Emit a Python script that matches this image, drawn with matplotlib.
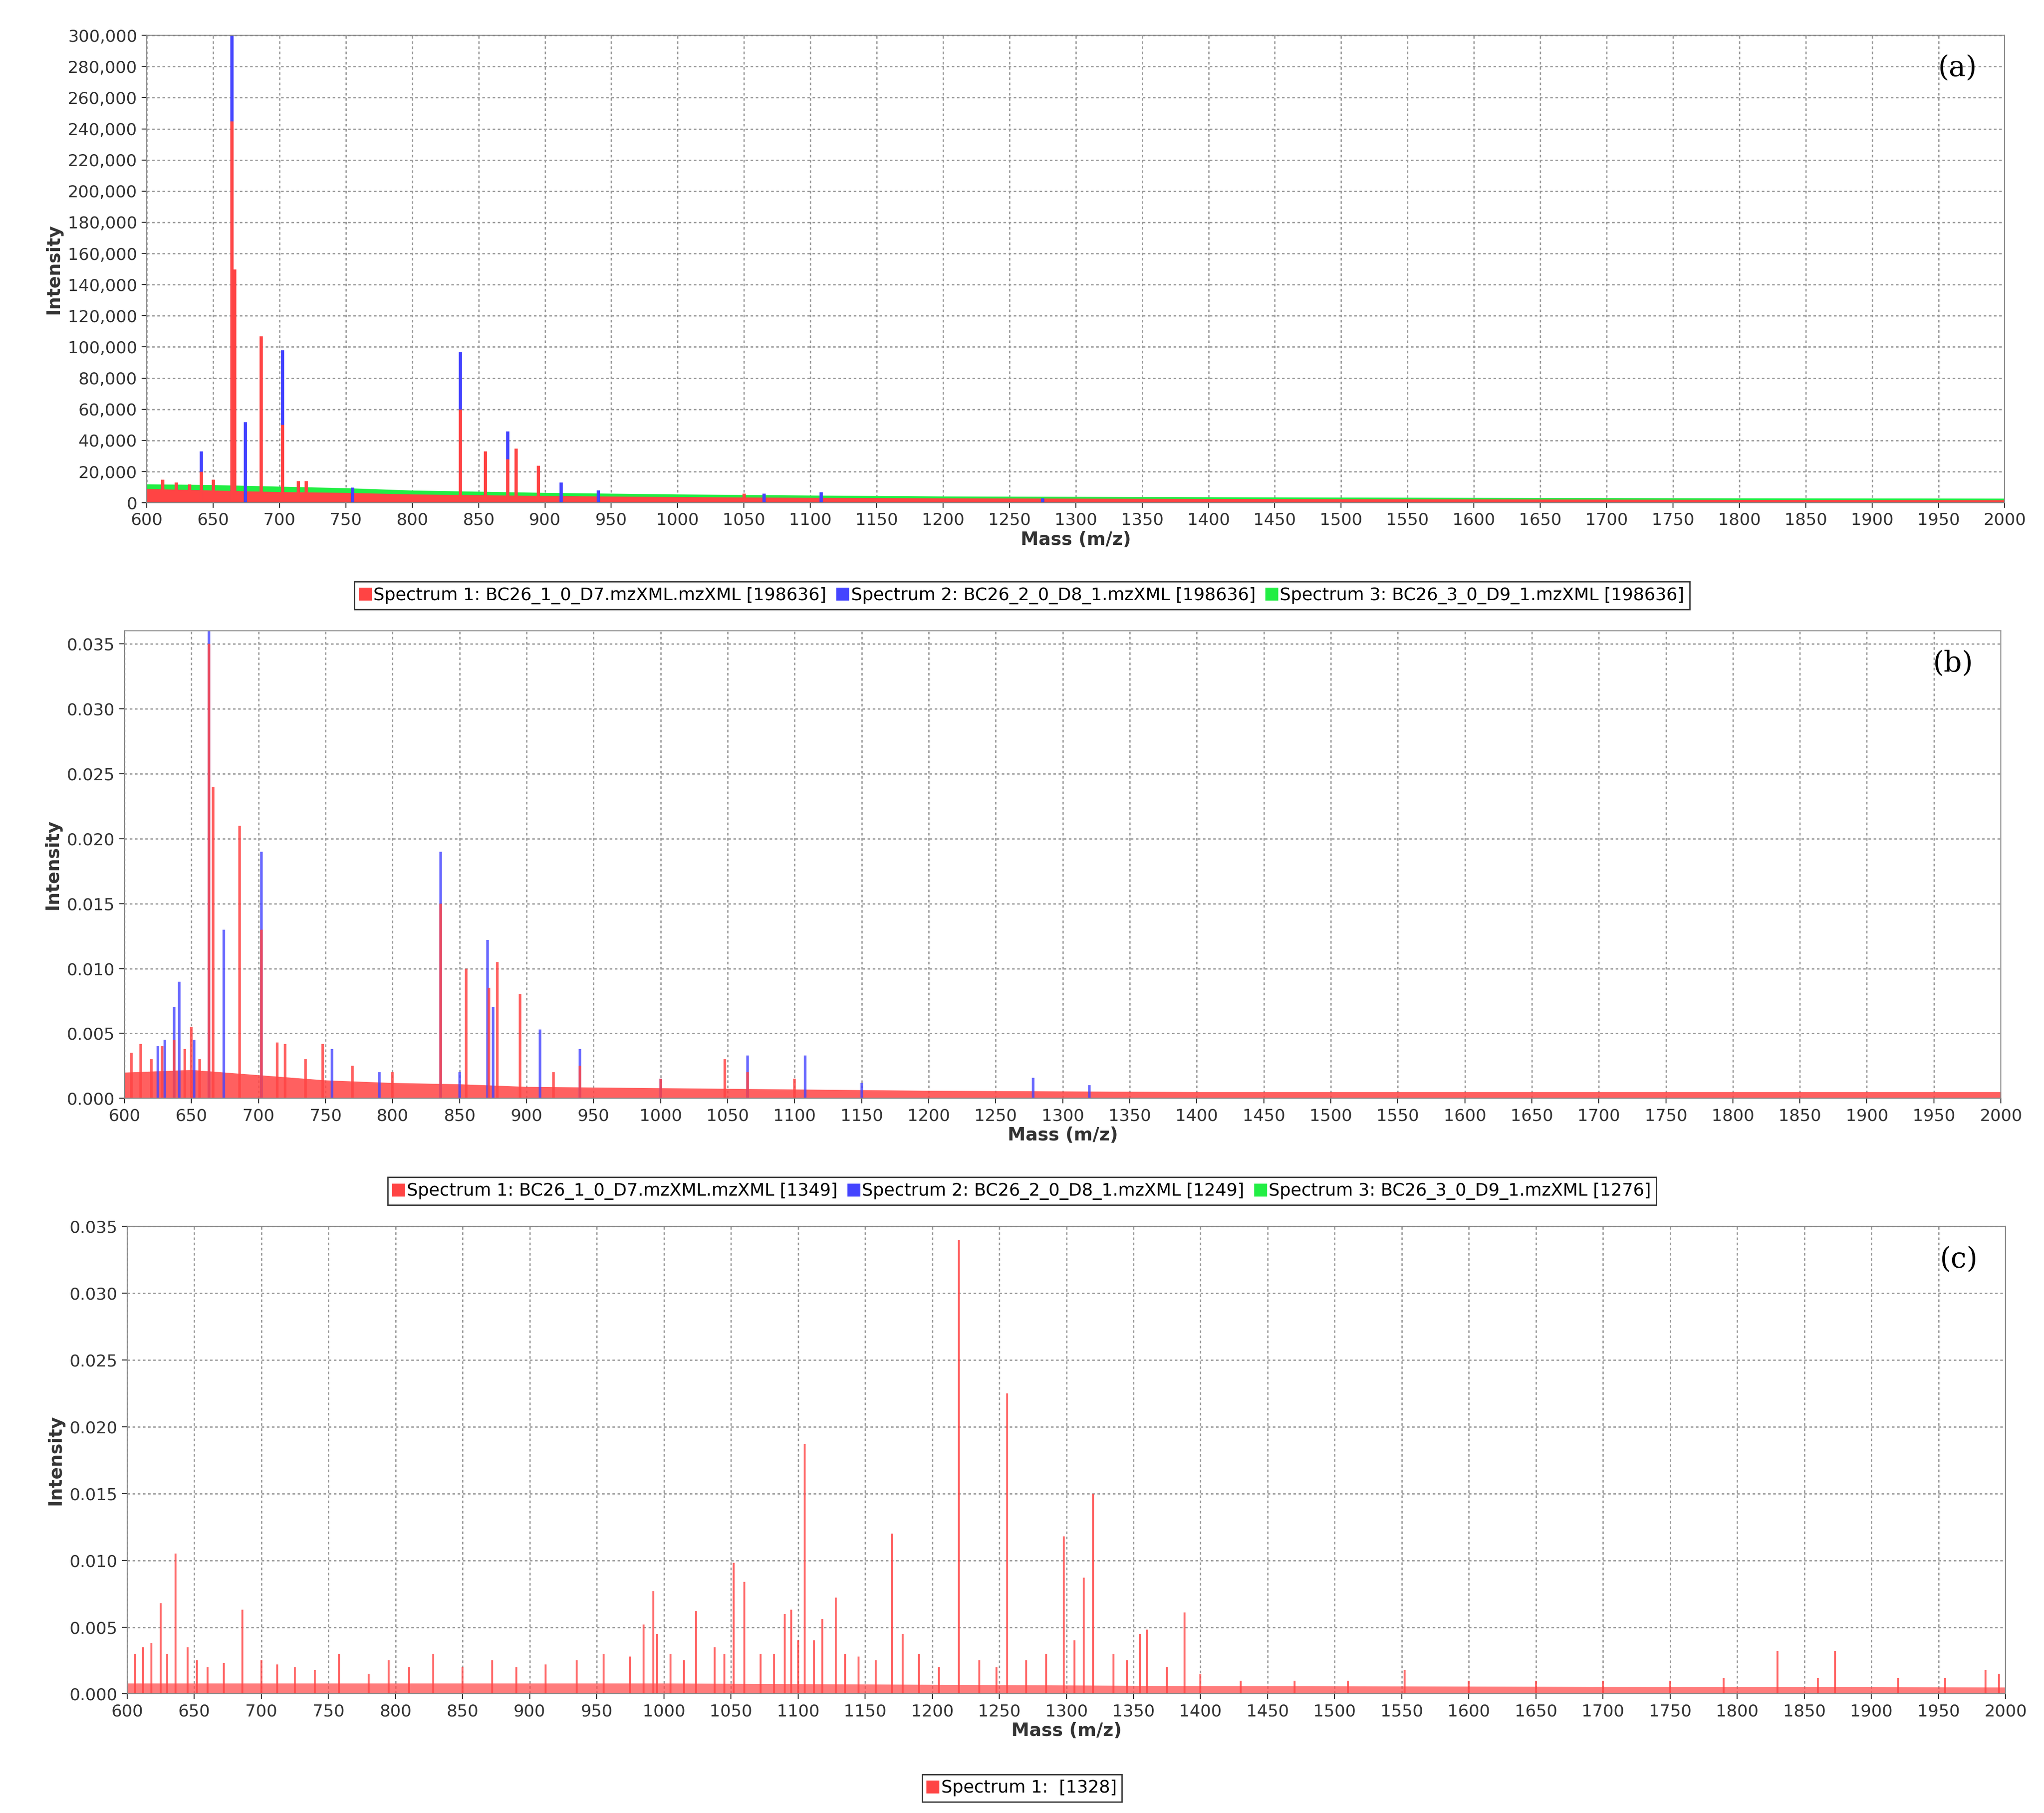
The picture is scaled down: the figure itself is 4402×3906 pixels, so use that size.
import matplotlib
matplotlib.use("Agg")
import matplotlib.pyplot as plt
from matplotlib.ticker import FuncFormatter, MultipleLocator
from matplotlib.lines import Line2D

RED, BLUE, GREEN = "#ff4444", "#4444ff", "#22ee44"

# ---------- panel (a) ----------
a_base_mz = [600, 650, 700, 750, 800, 900, 1000, 1100, 1200, 1400, 1600, 1800, 2000]
a_red_base = [9000, 8000, 7000, 6500, 5500, 4500, 3800, 3300, 3000, 2600, 2300, 2000, 1800]
a_green_base = [12000, 11500, 10500, 9500, 8000, 6500, 5500, 4800, 4200, 3700, 3300, 3000, 2800]
a_red_mz = [612, 622, 632, 641, 650, 664, 666, 686, 702, 714, 720, 836, 855, 872, 878, 895, 1050]
a_red_int = [15000, 13000, 12000, 20000, 15000, 245000, 150000, 107000, 50000, 14000, 14000, 60000, 33000, 28000, 35000, 24000, 6000]
a_blue_mz = [641, 664, 674, 702, 755, 836, 872, 912, 940, 1065, 1108, 1275]
a_blue_int = [33000, 300000, 52000, 98000, 10000, 97000, 46000, 13000, 8000, 6000, 7000, 3000]

# ---------- panel (b) ----------
b_red_mz = [605, 612, 620, 628, 637, 645, 650, 656, 663, 666, 686, 702, 714, 720, 735, 748, 770, 800, 836, 855, 872, 878, 895, 920, 940, 1000, 1048, 1065, 1100]
b_red_int = [0.0035, 0.0042, 0.0030, 0.0040, 0.0045, 0.0038, 0.0055, 0.0030, 0.035, 0.024, 0.021, 0.013, 0.0043, 0.0042, 0.0030, 0.0042, 0.0025, 0.0020, 0.015, 0.010, 0.0085, 0.0105, 0.008, 0.0020, 0.0025, 0.0015, 0.003, 0.0020, 0.0015]
b_blue_mz = [625, 630, 637, 641, 652, 663, 674, 702, 755, 790, 836, 850, 871, 875, 910, 940, 1000, 1065, 1108, 1150, 1278, 1320]
b_blue_int = [0.0040, 0.0045, 0.007, 0.009, 0.0045, 0.036, 0.013, 0.019, 0.0038, 0.0020, 0.019, 0.0020, 0.0122, 0.0070, 0.0053, 0.0038, 0.0015, 0.0033, 0.0033, 0.0012, 0.0016, 0.0010]
b_base_mz = [600, 650, 700, 750, 800, 850, 900, 1000, 1100, 1200, 1400, 1600, 1800, 2000]
b_base_int = [0.0020, 0.0022, 0.0018, 0.0014, 0.0012, 0.0011, 0.0009, 0.0008, 0.0007, 0.0006, 0.0005, 0.0005, 0.0005, 0.0005]

# ---------- panel (c) ----------
c_mz = [606, 612, 618, 625, 630, 636, 645, 652, 660, 672, 686, 700, 712, 725, 740, 758, 780, 795, 810, 828, 850, 872, 890, 912, 935, 955, 975, 985, 992, 995, 1005, 1015, 1024, 1038, 1045, 1052, 1060, 1072, 1082, 1090, 1095, 1100, 1105, 1112, 1118, 1128, 1135, 1145, 1158, 1170, 1178, 1190, 1205, 1220, 1235, 1248, 1256, 1270, 1285, 1298, 1306, 1313, 1320, 1335, 1345, 1355, 1360, 1375, 1388, 1400, 1430, 1470, 1510, 1552, 1600, 1650, 1700, 1750, 1790, 1830, 1860, 1873, 1920, 1955, 1985, 1995]
c_int = [0.003, 0.0035, 0.0038, 0.0068, 0.0030, 0.0105, 0.0035, 0.0025, 0.0020, 0.0023, 0.0063, 0.0025, 0.0022, 0.0020, 0.0018, 0.0030, 0.0015, 0.0025, 0.0020, 0.0030, 0.0020, 0.0025, 0.0020, 0.0022, 0.0025, 0.0030, 0.0028, 0.0052, 0.0077, 0.0045, 0.0030, 0.0025, 0.0062, 0.0035, 0.0030, 0.0098, 0.0084, 0.0030, 0.0030, 0.0060, 0.0063, 0.0040, 0.0187, 0.0040, 0.0056, 0.0072, 0.0030, 0.0028, 0.0025, 0.0120, 0.0045, 0.0030, 0.0020, 0.0340, 0.0025, 0.0020, 0.0225, 0.0025, 0.0030, 0.0118, 0.0040, 0.0087, 0.0150, 0.0030, 0.0025, 0.0045, 0.0048, 0.0020, 0.0061, 0.0015, 0.0010, 0.0010, 0.0010, 0.0018, 0.0010, 0.0010, 0.0010, 0.0010, 0.0012, 0.0032, 0.0012, 0.0032, 0.0012, 0.0012, 0.0018, 0.0015]
c_base_mz = [600, 1000, 1400, 2000]
c_base_int = [0.0008, 0.0008, 0.0006, 0.0005]

fig = plt.figure(figsize=(22.01, 19.53), dpi=200)
fig.patch.set_facecolor("white")

def style(ax, ylim, yfmt, ystep):
    ax.set_xlim(600, 2000)
    ax.set_ylim(0, ylim)
    ax.xaxis.set_major_locator(MultipleLocator(50))
    ax.yaxis.set_major_locator(MultipleLocator(ystep))
    ax.yaxis.set_major_formatter(FuncFormatter(yfmt))
    ax.grid(True, color="#999999", linestyle=(0, (2, 2)), linewidth=1.0)
    ax.set_axisbelow(True)
    for s in ax.spines.values():
        s.set_color("#888888")
    ax.tick_params(labelsize=13, colors="#333333", length=4)
    ax.set_xlabel("Mass (m/z)", fontsize=14, fontweight="bold", color="#333333", labelpad=2)
    ax.set_ylabel("Intensity", fontsize=14, fontweight="bold", color="#333333")

def legend(y, entries):
    handles = [Line2D([], [], marker="s", color="none", markerfacecolor=c, markeredgecolor=c, markersize=9) for c, _ in entries]
    fig.legend(handles, [t for _, t in entries], loc="center", bbox_to_anchor=(0.5, y), ncol=len(entries),
               fontsize=13.5, frameon=True, fancybox=False, edgecolor="black", handlelength=0.6,
               handletextpad=0.2, columnspacing=0.6, borderpad=0.3)

# (a)
ax = fig.add_axes([0.0718, 0.7227, 0.9090, 0.2578])
ax.fill_between(a_base_mz, a_green_base, color=GREEN, lw=0)
ax.fill_between(a_base_mz, a_red_base, color=RED, lw=0)
ax.vlines(a_blue_mz, 0, a_blue_int, color=BLUE, lw=2.5)
ax.vlines(a_red_mz, 0, a_red_int, color=RED, lw=2.5)
style(ax, 300000, lambda v, p: f"{int(v):,}", 20000)
ax.text(0.985, 0.93, "(a)", transform=ax.transAxes, ha="right", va="center", fontsize=22, family="DejaVu Serif")
legend(0.6715, [(RED, "Spectrum 1: BC26_1_0_D7.mzXML.mzXML [198636]"),
                (BLUE, "Spectrum 2: BC26_2_0_D8_1.mzXML [198636]"),
                (GREEN, "Spectrum 3: BC26_3_0_D9_1.mzXML [198636]")])

# (b)
ax = fig.add_axes([0.0609, 0.3942, 0.9180, 0.2578])
ax.fill_between(b_base_mz, b_base_int, color=RED, lw=0, alpha=0.85)
ax.vlines(b_blue_mz, 0, b_blue_int, color=BLUE, lw=2.0, alpha=0.8)
ax.vlines(b_red_mz, 0, b_red_int, color=RED, lw=2.0, alpha=0.85)
style(ax, 0.036, lambda v, p: f"{v:.3f}", 0.005)
ax.text(0.985, 0.93, "(b)", transform=ax.transAxes, ha="right", va="center", fontsize=22, family="DejaVu Serif")
legend(0.343, [(RED, "Spectrum 1: BC26_1_0_D7.mzXML.mzXML [1349]"),
               (BLUE, "Spectrum 2: BC26_2_0_D8_1.mzXML [1249]"),
               (GREEN, "Spectrum 3: BC26_3_0_D9_1.mzXML [1276]")])

# (c)
ax = fig.add_axes([0.0622, 0.0657, 0.9190, 0.2578])
ax.fill_between(c_base_mz, c_base_int, color=RED, lw=0, alpha=0.7)
ax.vlines(c_mz, 0, c_int, color=RED, lw=1.5, alpha=0.8)
style(ax, 0.035, lambda v, p: f"{v:.3f}", 0.005)
ax.text(0.985, 0.93, "(c)", transform=ax.transAxes, ha="right", va="center", fontsize=22, family="DejaVu Serif")
legend(0.0137, [(RED, "Spectrum 1:  [1328]")])

fig.savefig("out.png", dpi=200, facecolor="white")
